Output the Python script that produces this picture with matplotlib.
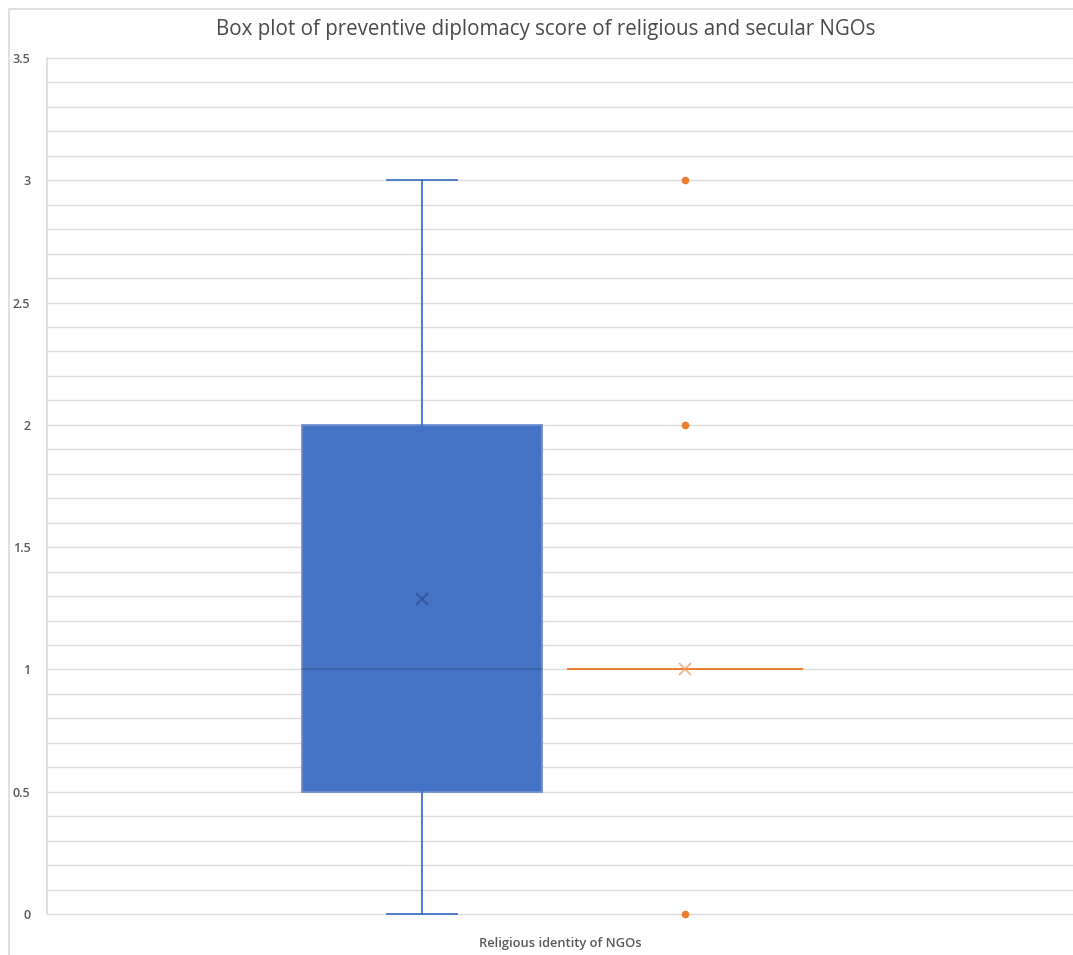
import matplotlib
matplotlib.use("Agg")
import matplotlib.pyplot as plt
from matplotlib.patches import Rectangle

# Summary statistics of preventive diplomacy scores
groups = ["Religious", "Secular"]
q1 = [0.5, 1.0]
median = [1.0, 1.0]
q3 = [2.0, 1.0]
whisker_low = [0.0, 1.0]
whisker_high = [3.0, 1.0]
mean = [1.286, 1.0]
outliers = [[], [0.0, 2.0, 3.0]]

title = "Box plot of preventive diplomacy score of religious and secular NGOs"
xlabel = "Religious identity of NGOs"
yticks = [0, 0.5, 1, 1.5, 2, 2.5, 3, 3.5]
ytick_labels = ["0", "0.5", "1", "1.5", "2", "2.5", "3", "3.5"]

W, H = 1073, 955
fig = plt.figure(figsize=(W / 100, H / 100), dpi=100)
fig.patch.set_facecolor("white")

# outer chart frame (left and top edges in view)
fig.patches.append(Rectangle((9 / W, -0.1), 1.2, (H - 9) / H + 0.1,
                             transform=fig.transFigure, fill=False,
                             edgecolor="#d9d9d9", linewidth=1.2, zorder=0))

ax = fig.add_axes([47 / W, (H - 914) / H, (1073 - 47) / W, (914 - 58) / H])
ax.set_xlim(-0.426, 3.475)
ax.set_ylim(0, 3.5)

# gridlines: every 0.1
for i in range(36):
    ax.axhline(i * 0.1, color="#dcdcdc", linewidth=1.0, zorder=0, clip_on=False)

for s in ["top", "right", "bottom"]:
    ax.spines[s].set_visible(False)
ax.spines["left"].set_color("#d9d9d9")
ax.spines["left"].set_linewidth(1.1)

ax.set_yticks(yticks)
ax.set_yticklabels(ytick_labels)
ax.set_xticks([])
ax.tick_params(axis="y", length=0, pad=12, labelsize=9, labelcolor="#595959")
for lbl in ax.get_yticklabels():
    lbl.set_fontfamily("Open Sans")
    lbl.set_fontweight("semibold")

blue = "#4472C4"
orange = "#ED7D31"
styles = [
    dict(face=blue, edge="#6f8fd0", whisk=blue, med="#3a62a8", mean_c="#2f4f8f",
         flier=blue, cap=0.266, width=0.913),
    dict(face="none", edge=orange, whisk=orange, med=orange, mean_c="#f0a070",
         flier=orange, cap=0.0, width=0.897),
]

for i in range(len(groups)):
    st = styles[i]
    stats = [dict(label=groups[i], q1=q1[i], med=median[i], q3=q3[i],
                  whislo=whisker_low[i], whishi=whisker_high[i],
                  mean=mean[i], fliers=outliers[i])]
    parts = ax.bxp(stats, positions=[i + 1], widths=[st["width"]],
                   capwidths=[st["cap"]],
                   patch_artist=True, showmeans=True, showfliers=True,
                   boxprops=dict(facecolor=st["face"], edgecolor=st["edge"], linewidth=1.3),
                   whiskerprops=dict(color=st["whisk"], linewidth=1.3),
                   capprops=dict(color=st["whisk"], linewidth=1.3),
                   medianprops=dict(color=st["med"], linewidth=1.3),
                   meanprops=dict(marker="x", markeredgecolor=st["mean_c"], markersize=8,
                                  markeredgewidth=1.3, alpha=0.8),
                   flierprops=dict(marker="o", markerfacecolor=st["flier"],
                                   markeredgecolor=st["flier"], markersize=4.5),
                   manage_ticks=False, zorder=3)
    for key in parts:
        for artist in parts[key]:
            artist.set_clip_on(False)

fig.text(546 / W, 1 - 30 / H, title, ha="center", va="center",
         fontsize=14.8, color="#4a4a4a", family="Open Sans")
fig.text(560 / W, 1 - 943 / H, xlabel, ha="center", va="center",
         fontsize=9.3, color="#595959", family="Open Sans", fontweight="semibold")

fig.savefig("out.png", dpi=100, facecolor="white")
